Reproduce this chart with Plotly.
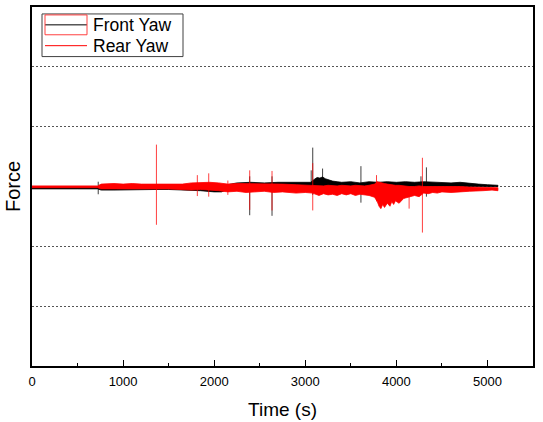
import plotly.graph_objects as go

# ---- data (envelope of the dense signals + isolated spikes) ----
front_t  = [0, 300, 500, 720, 760, 900, 1100, 1350, 1500, 1700,
            1850, 2000, 2080, 2150, 2250, 2400, 2550, 2700, 2900, 3000,
            3060, 3100, 3130, 3160, 3190, 3220, 3260, 3300, 3350, 3400,
            3500, 3600, 3700, 3800, 3900, 4000, 4100, 4200, 4300, 4400,
            4500, 4600, 4700, 4800, 4900, 5000, 5115]
front_hi = [-1, -1, -1, -1, -1, -1, -1, 0, 1, 2,
            1, 0, 0, 3, 6, 7, 6, 7, 7, 6,
            7, 12, 15, 14, 16, 13, 11, 9, 8, 7,
            8, 6, 8, 7, 8, 7, 8, 7, 8, 7,
            7, 6, 7, 5, 4, 3, 2]
front_lo = [-4, -4, -4, -4, -6, -6, -6, -5, -5, -6,
            -7, -9, -9, -5, -2, -1, -1, 0, 0, 0,
            0, 0, 0, 0, 0, 0, 0, 0, 0, 0,
            0, 0, 0, 0, 0, 0, 0, 0, 0, 0,
            0, 0, 0, 0, 0, 0, 0]

rear_t  = [0, 300, 720, 760, 900, 1000, 1100, 1200, 1350, 1500,
           1650, 1750, 1850, 1950, 2050, 2150, 2250, 2350, 2450, 2550,
           2650, 2750, 2900, 3000, 3080, 3100, 3150, 3200, 3250, 3300,
           3350, 3400, 3450, 3500, 3550, 3600, 3650, 3700, 3760, 3790,
           3810, 3830, 3850, 3870, 3900, 3930, 3950, 3970, 3990, 4030,
           4080, 4140, 4200, 4250, 4300, 4350, 4400, 4450, 4500, 4600,
           4700, 4800, 4850, 4950, 5050, 5115]
rear_hi = [1, 1, 1, 4, 5, 4, 5, 4, 4, 3,
           4, 6, 7, 7, 6, 4, 5, 5, 4, 5,
           5, 4, 3, 2, 2, 1, 1, 1, 2, 1,
           1, 2, 1, 1, 2, 1, 1, 2, 4, 8,
           7, 7, 6, 5, 4, 3, 3, 2, 2, 2,
           1, 0, 0, 1, 0, 0, 1, 0, 0, 0,
           0, -1, -1, -1, -1, -2]
rear_lo = [-2, -2, -2, -4, -5, -4, -5, -4, -4, -4,
           -5, -6, -5, -6, -7, -9, -8, -10, -9, -8,
           -10, -9, -11, -10, -11, -13, -15, -12, -14, -13,
           -15, -12, -14, -12, -15, -13, -14, -15, -18, -25,
           -33, -37, -30, -35, -28, -33, -25, -30, -24, -28,
           -20, -17, -15, -17, -11, -12, -10, -11, -9, -10,
           -9, -8, -7, -7, -6, -7]

front_spike_t  = [727, 2390, 2635, 3065, 3082, 3190, 3611, 4270, 4330]
front_spike_hi = [8, 17, 17, 27, 65, 30, 34, 17, 32]
front_spike_lo = [-13, -48, -49, -5, -14, 0, -27, -7, -17]

rear_spike_t  = [1366, 1815, 1940, 2150, 2390, 2635, 3082, 3782, 4140, 4286]
rear_spike_hi = [70, 19, 22, 10, 27, 26, 39, 19, 0, 48]
rear_spike_lo = [-64, -16, -17, -14, -39, -40, -40, -25, -37, -77]

x_ticks = [0, 1000, 2000, 3000, 4000, 5000]
series_names = ["Front Yaw", "Rear Yaw"]
series_colors = ["#000000", "#FF0000"]

assert len(front_t) == len(front_hi) == len(front_lo)
assert len(rear_t) == len(rear_hi) == len(rear_lo)


def band(t, hi, lo):
    return list(t) + list(t)[::-1], list(hi) + list(lo)[::-1]


def spikes(t, hi, lo):
    xs, ys = [], []
    for ti, h, l in zip(t, hi, lo):
        xs += [ti, ti, None]
        ys += [l, h, None]
    return xs, ys


fig = go.Figure()
for (t, hi, lo, st, sh, sl), col in zip(
        [(front_t, front_hi, front_lo, front_spike_t, front_spike_hi, front_spike_lo),
         (rear_t, rear_hi, rear_lo, rear_spike_t, rear_spike_hi, rear_spike_lo)],
        series_colors):
    bx, by = band(t, hi, lo)
    fig.add_trace(go.Scatter(x=bx, y=by, fill="toself", fillcolor=col, mode="lines",
                             line=dict(color=col, width=0.8), showlegend=False,
                             hoverinfo="skip"))
    sx, sy = spikes(st, sh, sl)
    fig.add_trace(go.Scatter(x=sx, y=sy, mode="lines", line=dict(color=col, width=1),
                             opacity=0.75, showlegend=False, hoverinfo="skip"))

# ---- manual legend (paper coords; plot area 32..533 x, 5..367 y) ----
PL, PW, PT, PH = 32, 501, 5, 362


def px(x):
    return (x - PL) / PW


def py(y):
    return (PT + PH - y) / PH


fig.add_shape(type="rect", xref="paper", yref="paper",
              x0=px(42), x1=px(183), y0=py(55), y1=py(12),
              line=dict(color="#404040", width=1), fillcolor="white", layer="above")
for i, (name, col) in enumerate(zip(series_names, series_colors)):
    yc = 23 + 21 * i
    fig.add_shape(type="line", xref="paper", yref="paper",
                  x0=px(45), x1=px(87), y0=py(yc), y1=py(yc),
                  line=dict(color=col, width=1), layer="above")
    fig.add_annotation(xref="paper", yref="paper", x=px(91), y=py(yc),
                       xanchor="left", yanchor="middle", text=name, showarrow=False,
                       font=dict(size=17.5, color="black"))
fig.add_shape(type="rect", xref="paper", yref="paper",
              x0=px(45), x1=px(87), y0=py(33), y1=py(13),
              line=dict(color="#FF4040", width=1), layer="above")

fig.update_layout(
    width=543, height=422,
    margin=dict(l=32, r=10, t=5, b=55),
    paper_bgcolor="white", plot_bgcolor="white",
    font=dict(family="Liberation Sans, Arial, sans-serif", color="black"),
    showlegend=False,
    xaxis=dict(range=[0, 5500], tickvals=x_ticks, ticks="inside", ticklen=6,
               tickwidth=1, tickcolor="black", tickfont=dict(size=13),
               ticklabelstandoff=3,
               minor=dict(dtick=500, ticks="inside", ticklen=3, tickcolor="black",
                          showgrid=False),
               showline=True, linecolor="black", linewidth=1.5, mirror=True,
               showgrid=False, zeroline=False,
               title=dict(text="Time (s)", font=dict(size=19), standoff=14)),
    yaxis=dict(range=[-300, 300], dtick=100, showticklabels=False, ticks="",
               showline=True, linecolor="black", linewidth=1.5, mirror=True,
               showgrid=True, gridcolor="#555555", gridwidth=1, griddash="2px,2px",
               zeroline=False,
               title=dict(text="Force", font=dict(size=20), standoff=4)),
)

fig.write_html("out.html", post_script="document.body.style.margin='0px';",
               config={"displayModeBar": False})
